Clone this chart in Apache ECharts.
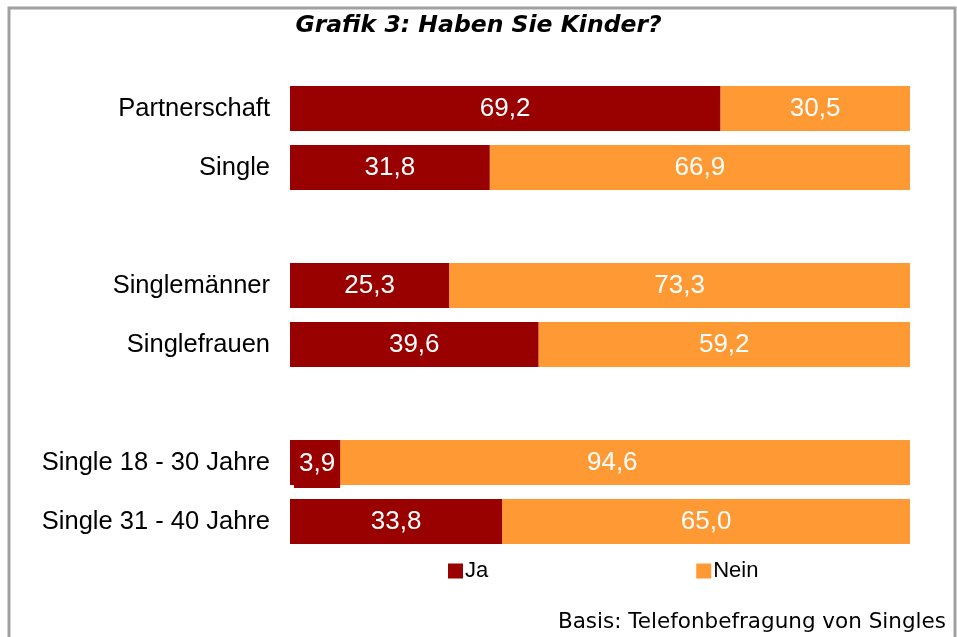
<!DOCTYPE html>
<html>
<head>
<meta charset="utf-8">
<script src="https://cdn.jsdelivr.net/npm/echarts@6/dist/echarts.min.js"></script>
<style>
  html, body { margin: 0; padding: 0; background: #fff; }
  #chart { width: 957px; height: 637px; }
</style>
</head>
<body>
<div id="chart"></div>
<script>
// Kategorien (leere Einträge = Abstand zwischen Gruppen)
const categories = ['Partnerschaft', 'Single', '', 'Singlemänner', 'Singlefrauen', ' ', 'Single 18 - 30 Jahre', 'Single 31 - 40 Jahre'];
const ja = [69.2, 31.8, null, 25.3, 39.6, null, 3.9, 33.8];
const nein = [30.5, 66.9, null, 73.3, 59.2, null, 94.6, 65.0];

// Balken sind auf 100 % gestreckt, Beschriftung zeigt den Originalwert
function share(arr, i) {
  if (arr[i] == null) return null;
  return arr[i] / (ja[i] + nein[i]) * 100;
}
const fmt = v => v.toFixed(1).replace('.', ',');

const jaData = ja.map((v, i) => {
  if (v == null) return null;
  let item = { value: share(ja, i), raw: v };
  // zu schmaler Balken: Beschriftung mit Hintergrund ragt heraus
  if (share(ja, i) < 6) {
    item.label = {
      position: 'insideLeft',
      offset: [-1, 1.5],
      backgroundColor: '#990000',
      padding: [11, 5, 11, 5]
    };
  }
  return item;
});
const neinData = nein.map((v, i) => v == null ? null : { value: share(nein, i), raw: v });

const labelStyle = {
  show: true,
  position: 'inside',
  color: '#fff',
  fontFamily: 'Arial, Liberation Sans, sans-serif',
  fontSize: 26,
  formatter: p => fmt(p.data.raw)
};

let myChart = echarts.init(document.getElementById('chart'));
let option = {
  animation: false,
  title: {
    text: 'Grafik 3: Haben Sie Kinder?',
    left: 'center',
    top: 9,
    textStyle: {
      fontFamily: 'DejaVu Sans, Verdana, sans-serif',
      fontStyle: 'italic',
      fontWeight: 'bold',
      fontSize: 23.5,
      color: '#000'
    }
  },
  graphic: [{
    type: 'rect',
    shape: { x: 9, y: 8, width: 946, height: 640 },
    style: { fill: 'none', stroke: '#a0a0a0', lineWidth: 3 },
    z: 100
  }, {
    type: 'text',
    right: 11,
    top: 611,
    style: {
      text: 'Basis: Telefonbefragung von Singles',
      font: '21.5px "DejaVu Sans", Verdana, sans-serif',
      fill: '#000'
    }
  }],
  legend: {
    top: 555,
    left: 443,
    itemWidth: 15,
    itemHeight: 15,
    itemGap: 208,
    icon: 'rect',
    textStyle: { fontFamily: 'Arial, Liberation Sans, sans-serif', fontSize: 22, color: '#000', padding: [0, 0, 0, -3] },
    data: ['Ja', 'Nein']
  },
  grid: { left: 290, right: 47, top: 79, height: 472 },
  xAxis: {
    type: 'value',
    min: 0,
    max: 100,
    show: false
  },
  yAxis: {
    type: 'category',
    inverse: true,
    data: categories,
    axisLine: { show: false },
    axisTick: { show: false },
    axisLabel: {
      margin: 20,
      color: '#000',
      fontFamily: 'Arial, Liberation Sans, sans-serif',
      fontSize: 25.5
    }
  },
  series: [{
    name: 'Ja',
    type: 'bar',
    stack: 'total',
    barCategoryGap: '24%',
    itemStyle: { color: '#990000' },
    label: labelStyle,
    data: jaData
  }, {
    name: 'Nein',
    type: 'bar',
    stack: 'total',
    itemStyle: { color: '#ff9933' },
    label: labelStyle,
    data: neinData,
    z: 1
  }]
};
myChart.setOption(option);
</script>
</body>
</html>
